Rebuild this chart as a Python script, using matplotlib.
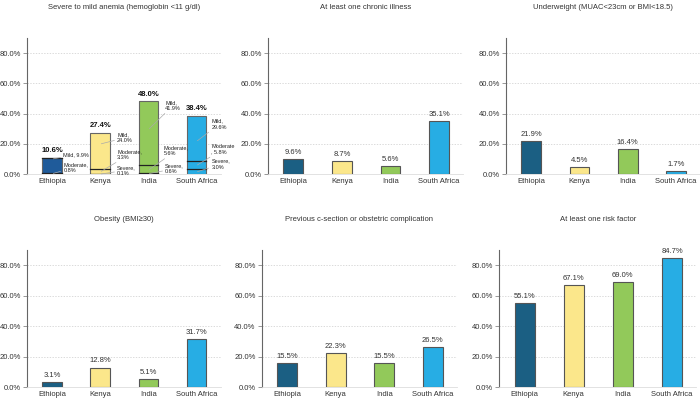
import matplotlib.pyplot as plt
import numpy as np

plt.rcParams['font.family'] = ['Liberation Sans', 'DejaVu Sans']

countries = ["Ethiopia", "Kenya", "India", "South Africa"]
colors = ["#1b5f83", "#fbe78b", "#92c95a", "#27ade4"]
anemia_colors = ["#1f5b9a", "#fbe78b", "#92c95a", "#27ade4"]

# anemia breakdown (%), stacked bottom -> top: severe, moderate, mild
anemia_total = [10.6, 27.4, 48.0, 38.4]
anemia_severe = [0.0, 0.1, 0.6, 3.0]
anemia_moderate = [0.8, 3.3, 5.6, 5.8]
anemia_mild = [9.9, 24.0, 41.9, 29.6]

chronic = [9.6, 8.7, 5.6, 35.1]
underweight = [21.9, 4.5, 16.4, 1.7]
obesity = [3.1, 12.8, 5.1, 31.7]
csection = [15.5, 22.3, 15.5, 26.5]
any_risk = [55.1, 67.1, 69.0, 84.7]

titles = [
    "Severe to mild anemia (hemoglobin <11 g/dl)",
    "At least one chronic illness",
    "Underweight (MUAC<23cm or BMI<18.5)",
    "Obesity (BMI\u226530)",
    "Previous c-section or obstetric complication",
    "At least one risk factor",
]

# axes rectangles in figure fractions
positions = [
    [0.039, 0.565, 0.276, 0.34],
    [0.383, 0.565, 0.279, 0.34],
    [0.723, 0.565, 0.277, 0.34],
    [0.039, 0.0325, 0.276, 0.3425],
    [0.374, 0.0325, 0.279, 0.3425],
    [0.713, 0.0325, 0.282, 0.3425],
]

TXT = "#333333"
FS = 5.5
W = 0.41


def style_axis(ax, title):
    ax.set_xlim(-0.52, 3.5)
    ax.set_ylim(0, 90)
    ax.set_yticks([0, 20, 40, 60, 80])
    ax.set_yticklabels([f"{v:.1f}%" for v in [0, 20, 40, 60, 80]])
    ax.set_xticks(range(4))
    ax.set_xticklabels(countries)
    ax.tick_params(axis='x', length=0, labelsize=FS, colors=TXT, pad=3)
    ax.tick_params(axis='y', length=3, width=0.6, color="#888888",
                   labelsize=FS, colors=TXT, pad=1.5)
    for s in ["top", "right"]:
        ax.spines[s].set_visible(False)
    ax.spines["left"].set_color("#666666")
    ax.spines["left"].set_linewidth(0.8)
    ax.spines["bottom"].set_color("#dddddd")
    ax.spines["bottom"].set_linewidth(0.6)
    for v in [20, 40, 60, 80]:
        ax.axhline(v, color="#cccccc", lw=0.5, ls=(0, (2, 2)), zorder=0)
    ax.set_title(title, fontsize=FS, color=TXT, y=1.215, pad=0)


fig = plt.figure(figsize=(7, 4), dpi=100)
x = np.arange(4)

# panel 1: anemia stacked
ax = fig.add_axes(positions[0])
style_axis(ax, titles[0])
bottoms = [0, 0, 0, 0]
for seg in [anemia_severe, anemia_moderate, anemia_mild]:
    ax.bar(x, seg, W, bottom=bottoms, color=anemia_colors, edgecolor="none", zorder=2)
    bottoms = [b + s for b, s in zip(bottoms, seg)]
ax.bar(x, bottoms, W, color="none", edgecolor="#666666", lw=0.8, zorder=3)
for i in range(4):
    for yb in [anemia_severe[i], anemia_severe[i] + anemia_moderate[i]]:
        if 0.05 < yb:
            ax.plot([x[i] - W / 2, x[i] + W / 2], [yb, yb], color="#222222", lw=0.9, zorder=4)
    if i == 0:
        ax.plot([x[i] - W / 2, x[i] + W / 2], [bottoms[i], bottoms[i]], color="#222222", lw=0.9, zorder=4)
    ax.text(x[i], bottoms[i] + 2.5, f"{anemia_total[i]:.1f}%", ha="center", va="bottom",
            fontsize=5.5, fontweight="bold", color="#111111")

# label text positions (data y) and offsets
ann = [
    (0, "Mild, 9.9%", 13.0, 10.0, 0.23),
    (0, "Moderate,\n0.8%", 4.5, 0.4, 0.23),
    (1, "Mild,\n24.0%", 24.0, 20.0, 0.35),
    (1, "Moderate,\n3.3%", 13.0, 1.8, 0.35),
    (1, "Severe,\n0.1%", 2.5, 0.05, 0.35),
    (2, "Mild,\n41.9%", 45.5, 30.0, 0.35),
    (2, "Moderate,\n5.6%", 15.5, 3.0, 0.32),
    (2, "Severe,\n0.6%", 3.5, 0.3, 0.35),
    (3, "Mild,\n29.6%", 33.0, 22.0, 0.31),
    (3, "Moderate\n, 5.8%", 16.5, 6.0, 0.31),
    (3, "Severe,\n3.0%", 6.5, 1.5, 0.31),
]
for i, label, ty, py, dx in ann:
    ax.annotate(label, xy=(x[i] + 0.02, py), xytext=(x[i] + dx, ty),
                fontsize=4, color="#222222", ha="left", va="center", linespacing=1.2,
                arrowprops=dict(arrowstyle="-", color="#aaaaaa", lw=0.5,
                                shrinkA=0, shrinkB=0), zorder=5)

# simple panels
simple = [chronic, underweight, obesity, csection, any_risk]
for k, vals in enumerate(simple, start=1):
    ax = fig.add_axes(positions[k])
    style_axis(ax, titles[k])
    ax.bar(x, vals, W, color=colors, edgecolor="#555555", lw=0.8, zorder=2)
    for i, v in enumerate(vals):
        ax.text(x[i], v + 2.0, f"{v:.1f}%", ha="center", va="bottom", fontsize=FS, color=TXT)

fig.savefig("out.png", dpi=100)
